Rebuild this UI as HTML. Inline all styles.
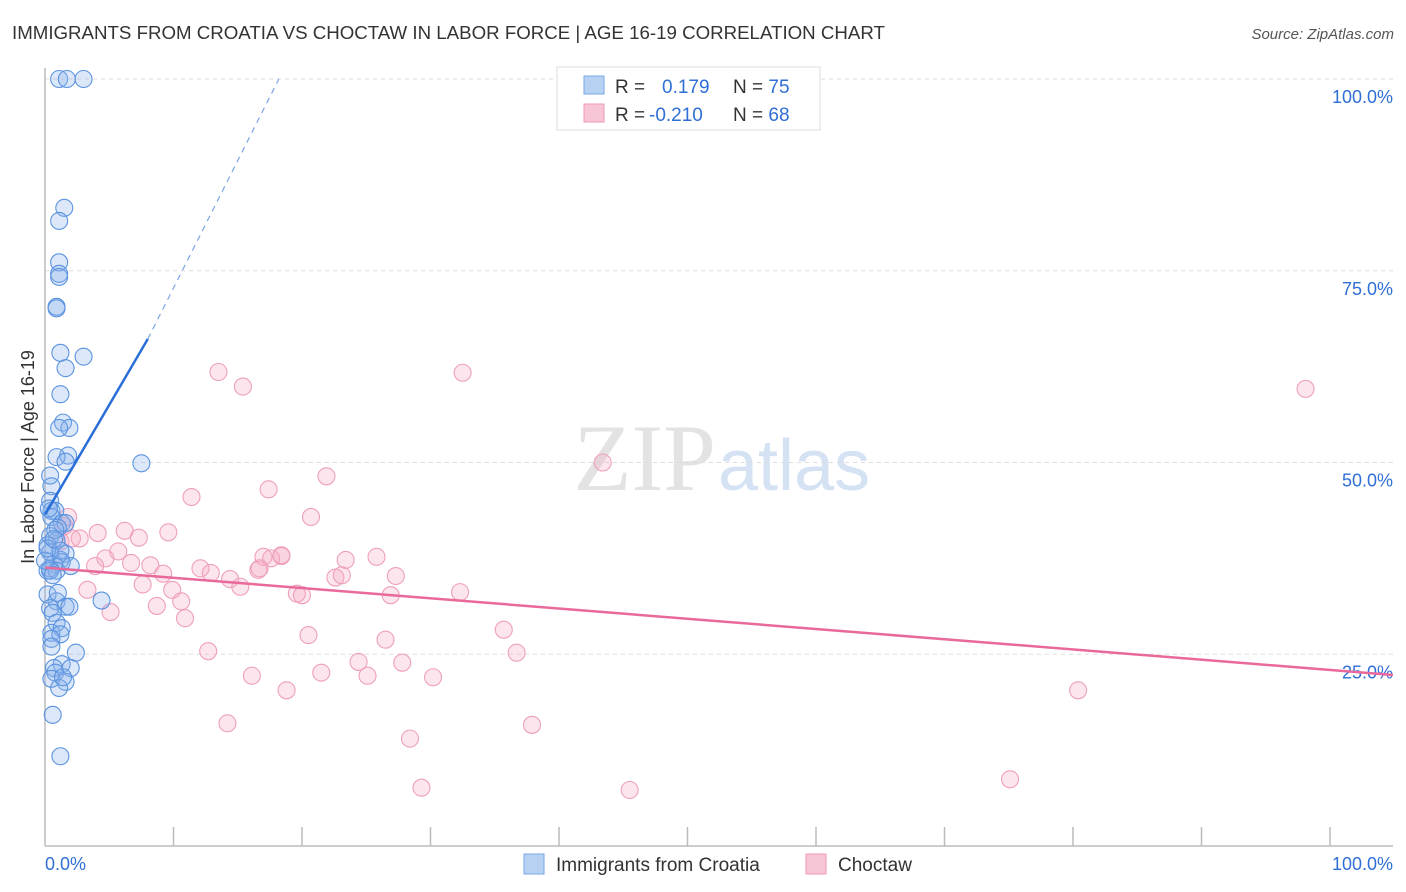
<!DOCTYPE html>
<html><head><meta charset="utf-8"><style>
body{margin:0;background:#fff;font-family:"Liberation Sans",sans-serif}
svg{display:block}
</style></head><body>
<svg id="c" width="1406" height="892">
<text x="12" y="39" font-size="18.7" fill="#333">IMMIGRANTS FROM CROATIA VS CHOCTAW IN LABOR FORCE | AGE 16-19 CORRELATION CHART</text>
<text x="1394" y="39" font-size="15" fill="#555" font-style="italic" text-anchor="end">Source: ZipAtlas.com</text>
<text x="716" y="490" font-size="95" fill="#e3e3e3" text-anchor="end" font-family="Liberation Serif">ZIP</text>
<text x="718" y="490" font-size="72" fill="#d4e2f4">atlas</text>
<text transform="translate(34,457) rotate(-90)" font-size="18" fill="#333" text-anchor="middle">In Labor Force | Age 16-19</text>
<g id="grid"></g><g id="marks"></g>
<g>
<rect x="557" y="67" width="263" height="63" fill="#fff" stroke="#ddd"/>
<rect x="584" y="76" width="20" height="18" fill="#b7d1f3" stroke="#7aa6e6"/>
<rect x="584" y="104" width="20" height="18" fill="#f7c5d5" stroke="#ee9ab5"/>
<text x="615" y="93" font-size="19" fill="#333">R = <tspan x="662" fill="#2f6fd6">0.179</tspan><tspan x="733" fill="#333">N = </tspan><tspan fill="#2f6fd6">75</tspan></text>
<text x="615" y="121" font-size="19" fill="#333">R = <tspan x="649" fill="#2f6fd6">-0.210</tspan><tspan x="733" fill="#333">N = </tspan><tspan fill="#2f6fd6">68</tspan></text>
</g>
<g>
<rect x="524" y="854" width="20" height="20" fill="#b7d1f3" stroke="#7aa6e6"/>
<text x="556" y="871" font-size="19" fill="#333">Immigrants from Croatia</text>
<rect x="806" y="854" width="20" height="20" fill="#f7c5d5" stroke="#ee9ab5"/>
<text x="838" y="871" font-size="19" fill="#333">Choctaw</text>
</g>
</svg>
<script>
const yTicks=[25,50,75,100];
const xTickLabels=["0.0%","100.0%"];
const blueX=[1.1,1.7,3.0,1.5,1.1,1.1,1.1,1.1,0.9,0.9,1.2,3.0,1.6,1.2,1.4,1.9,1.1,1.8,0.9,1.6,7.5,0.4,0.5,0.4,0.5,0.8,0.5,1.3,1.6,1.0,0.4,0.9,1.6,1.2,0.7,1.3,0.4,0.2,0.9,0.2,0.4,4.4,0.9,0.2,1.6,0.4,1.9,0.6,0.9,0.5,1.3,1.2,0.5,2.4,1.3,0.7,2.0,0.8,0.5,1.6,1.1,0.6,1.2,0.4,0.6,0.0,0.2,0.8,1.2,2.0,0.3,0.7,1.0,0.5,1.4];
const blueY=[100,100,100,83.2,81.5,76.1,74.6,74.2,70.3,70.1,64.3,63.8,62.3,58.9,55.2,54.5,54.5,50.9,50.7,50.1,49.9,48.3,46.9,45.0,43.7,43.7,42.9,42.1,42.1,41.5,40.4,39.8,38.1,37.3,36.8,37.0,36.2,35.9,35.9,39.2,38.3,32.0,31.9,32.8,31.2,31.0,31.2,30.4,29.1,27.8,28.4,27.6,27.0,25.2,23.7,23.2,23.2,22.6,21.8,21.4,20.6,17.1,11.7,35.9,35.3,37.2,38.8,41.2,38.5,36.5,44,40,33,26,22];
const pinkX=[13.5,15.4,32.5,98.1,43.4,21.9,11.4,17.4,20.7,9.6,4.1,6.2,7.3,4.7,5.7,3.9,6.7,8.2,9.2,12.1,12.9,14.4,15.2,16.6,17.0,18.4,17.6,18.4,16.7,19.6,20.0,22.6,23.1,23.4,25.8,27.3,26.9,32.3,10.6,8.7,5.1,10.9,9.9,7.6,3.3,20.5,26.5,35.7,36.7,12.7,24.4,27.8,25.1,21.5,16.1,30.2,18.8,80.4,14.2,37.9,28.4,29.3,45.5,75.1,1.8,2.1,1.5,2.7,1.2];
const pinkY=[61.8,59.9,61.7,59.6,50.0,48.2,45.5,46.5,42.9,40.9,40.8,41.1,40.2,37.5,38.4,36.5,36.9,36.6,35.5,36.2,35.6,34.8,33.8,36.0,37.7,37.8,37.5,37.9,36.2,32.9,32.7,35.0,35.3,37.3,37.7,35.2,32.7,33.1,31.9,31.3,30.5,29.7,33.4,34.1,33.4,27.5,26.9,28.2,25.2,25.4,24.0,23.9,22.2,22.6,22.2,22.0,20.3,20.3,16.0,15.8,14.0,7.6,7.3,8.7,42.9,40.1,41.7,40.1,39.7];
const blueLine=[[0,43.2],[8.0,66.1]], blueDash=[[8.0,66.1],[18.2,100]];
const pinkLine=[[0,36.3],[104.9,22.3]];
const X=v=>45+v*12.85, Y=v=>846-v*7.67;
const NS="http://www.w3.org/2000/svg";
const grid=document.getElementById('grid'), marks=document.getElementById('marks');
function mk(tag,attrs,parent){const e=document.createElementNS(NS,tag);for(const k in attrs)e.setAttribute(k,attrs[k]);parent.appendChild(e);return e;}
yTicks.forEach(t=>{
  const l=mk('line',{x1:45,x2:1393,y1:Y(t),y2:Y(t),stroke:'#ddd','stroke-dasharray':'4,4'},grid);
  
  
  const tx=mk('text',{x:1393,y:Y(t)+24,'font-size':18,fill:'#2f6fd6','text-anchor':'end'},grid);tx.textContent=t.toFixed(1)+'%';
  
  
});
const ax=mk('line',{x1:45,x2:45,y1:68,y2:846,stroke:'#bbb','stroke-width':1.5},grid);


const bx=mk('line',{x1:45,x2:1393,y1:846,y2:846,stroke:'#bbb','stroke-width':1.5},grid);


for(let i=1;i<=10;i++){const t=mk('line',{x1:X(i*10),x2:X(i*10),y1:827,y2:846,stroke:'#bbb','stroke-width':1.5},grid);
  
  }
[[0,'start',45],[100,'end',1393]].forEach((d,i)=>{const t=mk('text',{x:d[2],y:870,'font-size':18,fill:'#2f6fd6','text-anchor':d[1]},grid);t.textContent=xTickLabels[i];
  
  });
pinkX.forEach((v,i)=>{const c=mk('circle',{cx:X(v),cy:Y(pinkY[i]),r:8.5,fill:'rgba(244,170,195,0.3)',stroke:'#eea0ba','stroke-width':1.1},marks);
  
  });
blueX.forEach((v,i)=>{const c=mk('circle',{cx:X(v),cy:Y(blueY[i]),r:8.5,fill:'rgba(140,180,235,0.3)',stroke:'#5b93e0','stroke-width':1.1},marks);
  
  });
const pl=mk('line',{x1:X(pinkLine[0][0]),y1:Y(pinkLine[0][1]),x2:X(pinkLine[1][0]),y2:Y(pinkLine[1][1]),stroke:'#e8699a','stroke-width':2.5},marks);


const bl=mk('line',{x1:X(blueLine[0][0]),y1:Y(blueLine[0][1]),x2:X(blueLine[1][0]),y2:Y(blueLine[1][1]),stroke:'#2a6fd8','stroke-width':2.5},marks);


const bd=mk('line',{x1:X(blueDash[0][0]),y1:Y(blueDash[0][1]),x2:X(blueDash[1][0]),y2:Y(blueDash[1][1]),stroke:'#7aa6e6','stroke-width':1.2,'stroke-dasharray':'6,5'},marks);


</script>
</body></html>
